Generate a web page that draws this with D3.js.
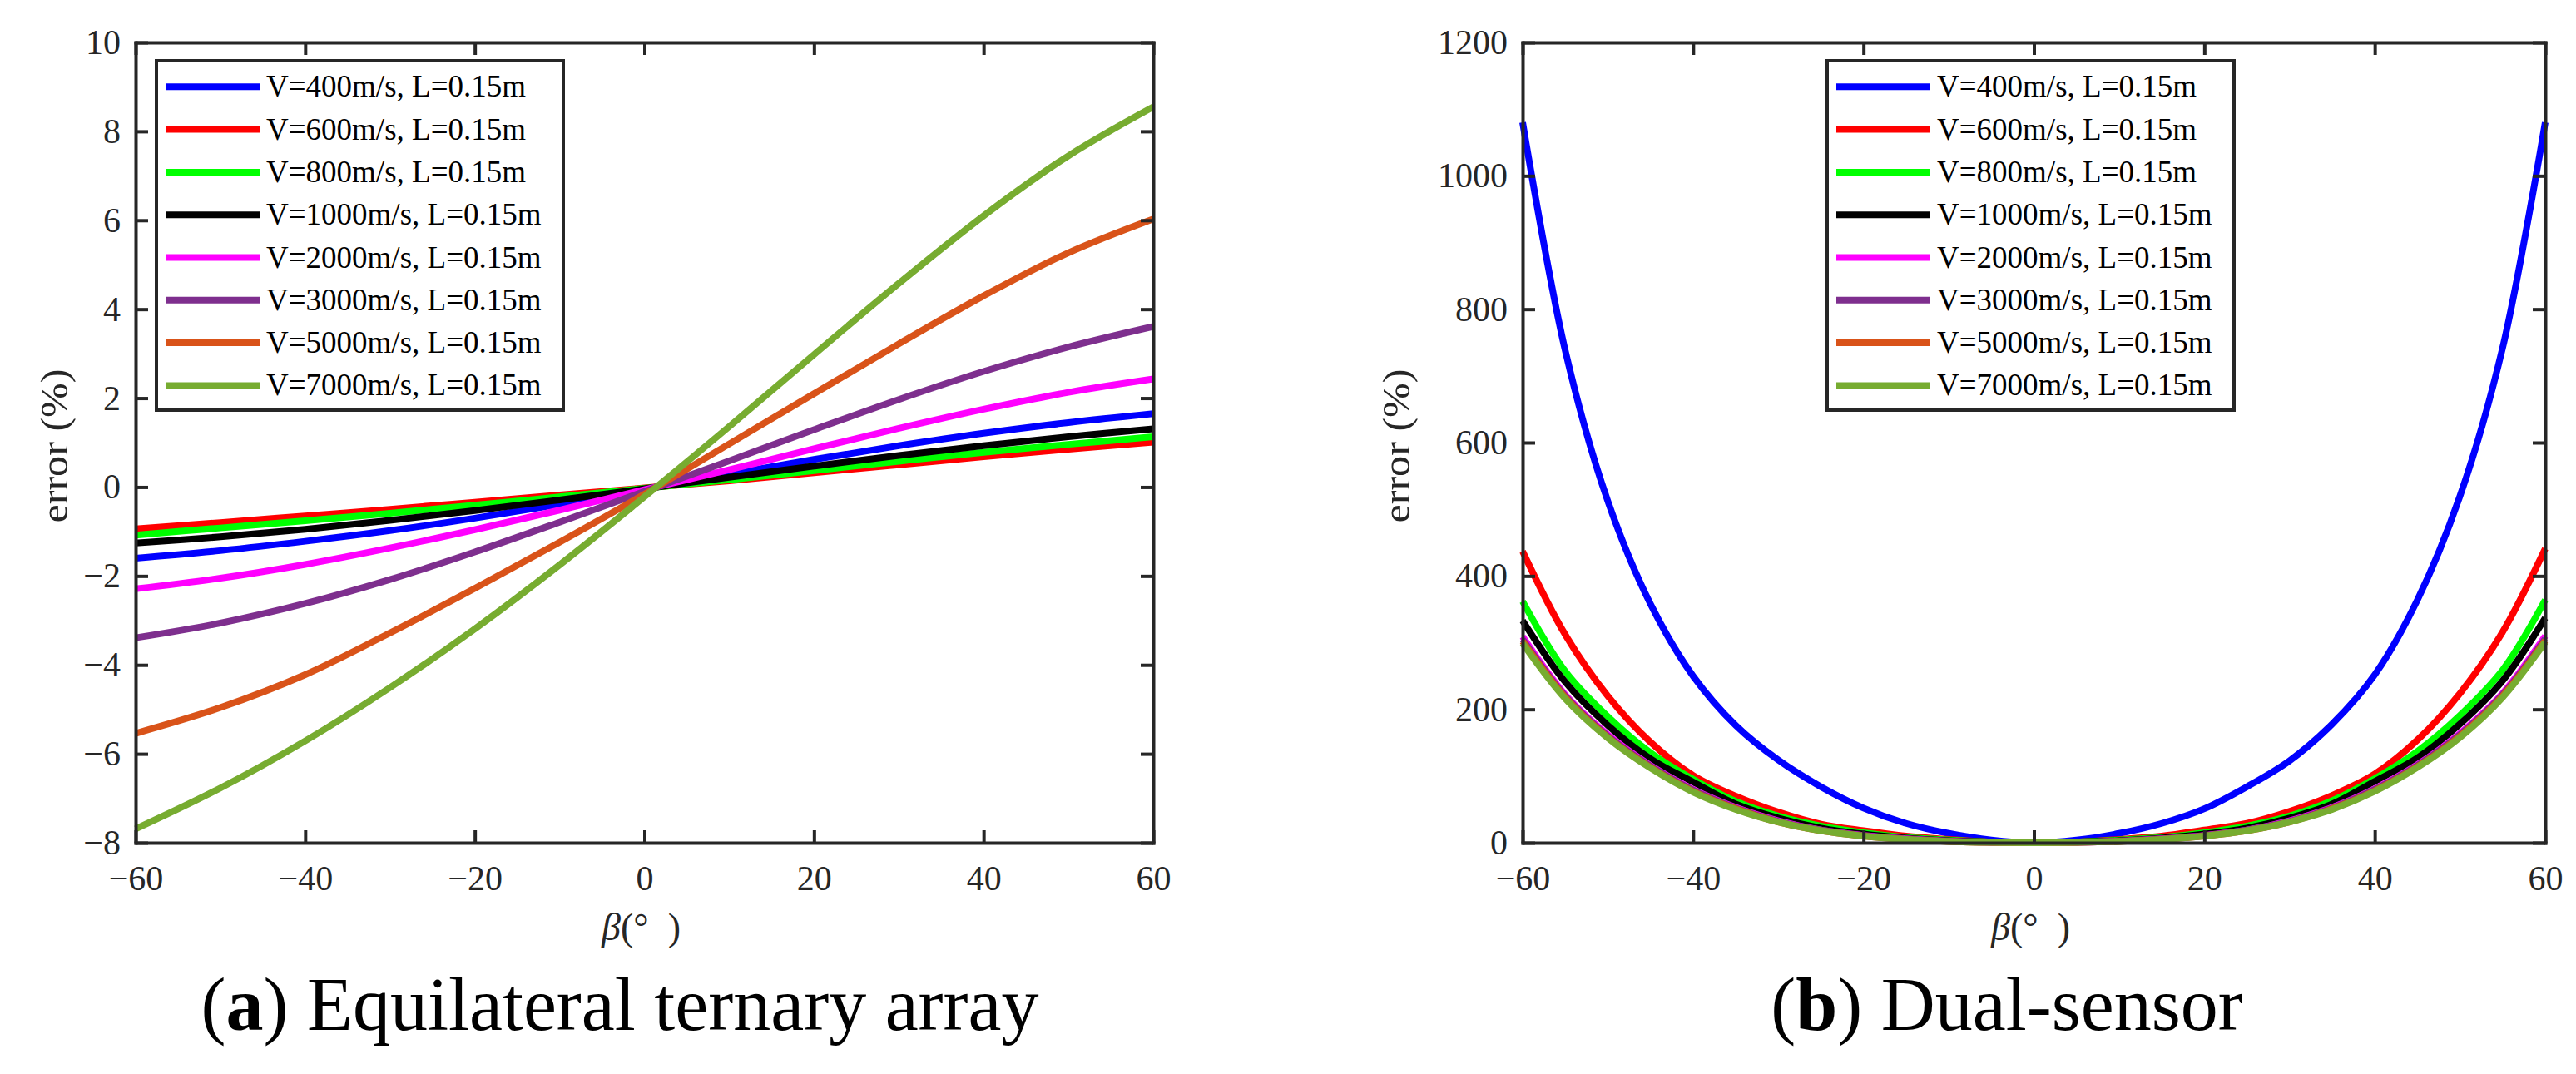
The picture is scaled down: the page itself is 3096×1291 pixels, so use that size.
<!DOCTYPE html>
<meta charset="utf-8">

<!-- Load d3.js -->
<script src="https://d3js.org/d3.v7.min.js"></script>

<style>
  body { margin: 0; background: #fff; }
  text { font-family: "Liberation Serif", "Times New Roman", serif; }
</style>

<!-- Create a div where the graph will take place -->
<div id="my_dataviz"></div>

<script>

// ---- data ----
var legendLabels = ["V=400m/s, L=0.15m", "V=600m/s, L=0.15m", "V=800m/s, L=0.15m", "V=1000m/s, L=0.15m",
                    "V=2000m/s, L=0.15m", "V=3000m/s, L=0.15m", "V=5000m/s, L=0.15m", "V=7000m/s, L=0.15m"];
var seriesColors = ["#0000ff", "#ff0000", "#00ff00", "#000000", "#ff00ff", "#7e2f8e", "#d95319", "#77ac30"];

var xTicks = [-60, -40, -20, 0, 20, 40, 60];
var yTicksA = [-8, -6, -4, -2, 0, 2, 4, 6, 8, 10];
var yTicksB = [0, 200, 400, 600, 800, 1000, 1200];

// (a) equilateral ternary array
var betaA = [-60, -50, -40, -30, -20, -10, 0, 10, 20, 30, 40, 50, 60];
var errA400  = [-1.60, -1.43, -1.22, -0.98, -0.70, -0.39, -0.05, 0.29, 0.62, 0.93, 1.21, 1.45, 1.65];
var errA600  = [-0.94, -0.80, -0.65, -0.50, -0.34, -0.18, -0.02, 0.14, 0.32, 0.50, 0.68, 0.85, 1.01];
var errA800  = [-1.08, -0.92, -0.76, -0.59, -0.41, -0.22, -0.03, 0.16, 0.37, 0.58, 0.78, 0.96, 1.13];
var errA1000 = [-1.26, -1.12, -0.95, -0.75, -0.53, -0.29, -0.04, 0.22, 0.47, 0.71, 0.93, 1.13, 1.31];
var errA2000 = [-2.29, -2.05, -1.74, -1.37, -0.96, -0.52, -0.06, 0.39, 0.86, 1.32, 1.75, 2.13, 2.43];
var errA3000 = [-3.39, -3.06, -2.62, -2.08, -1.46, -0.79, -0.10, 0.59, 1.29, 1.97, 2.60, 3.15, 3.61];
var errA5000 = [-5.54, -4.96, -4.22, -3.28, -2.28, -1.24, -0.16, 0.97, 2.10, 3.22, 4.30, 5.27, 6.03];
var errA7000 = [-7.69, -6.77, -5.71, -4.51, -3.19, -1.75, -0.22, 1.36, 2.98, 4.58, 6.10, 7.45, 8.55];

// (b) dual-sensor
var betaB = [-60, -55, -50, -45, -40, -35, -30, -25, -20, -15, -10, -5, 0,
             5, 10, 15, 20, 25, 30, 35, 40, 45, 50, 55, 60];
var errB400  = [1080, 738, 512, 358, 250, 176, 124, 84, 52, 29, 14, 4, 0,
                4, 14, 29, 51, 84, 123, 178, 252, 364, 520, 742, 1080];
var errB600  = [437, 312, 220, 151, 101, 70, 46, 28, 18, 10, 5, 1, 0,
                1, 5, 10, 19, 29, 47, 71, 103, 154, 224, 316, 441];
var errB800  = [362, 257, 189, 135, 95, 62, 40, 25, 15, 8, 4, 1, 0,
                1, 4, 8, 15, 25, 40, 63, 96, 137, 191, 259, 364];
var errB1000 = [333, 241, 176, 126, 91, 58, 37, 22, 13, 7, 3, 1, 0,
                1, 3, 7, 13, 22, 37, 58, 92, 127, 178, 243, 337];
var errB2000 = [309, 222, 162, 116, 80, 53, 33, 19, 11, 6, 2.5, 0.7, 0,
                0.7, 2.5, 6, 11, 19, 33, 53, 81, 117, 164, 224, 310];
var errB3000 = [305, 220, 160, 115, 79, 52, 32, 19, 10.5, 5.5, 2.3, 0.6, 0,
                0.6, 2.3, 5.5, 10.5, 19, 32, 52, 80, 116, 162, 222, 306];
var errB5000 = [302, 218, 158, 113, 77, 51, 31, 18, 10, 5, 2, 0.5, 0,
                0.5, 2, 5, 10, 18, 31, 51, 78, 114, 160, 220, 303];
var errB7000 = [299, 216, 157, 112, 76, 50, 31, 18, 10, 5, 2, 0.5, 0,
                0.5, 2, 5, 10, 18, 31, 50, 77, 113, 158, 218, 301];

var axisColor = "#262626";

var svg = d3.select("#my_dataviz")
  .append("svg")
    .attr("width", 3096)
    .attr("height", 1291);

function drawPanel(p) {
  var x = d3.scaleLinear().domain([-60, 60]).range([p.left, p.right]);
  var y = d3.scaleLinear().domain(p.yDomain).range([p.bottom, p.top]);
  var g = svg.append("g");

  // curves
  var line = d3.line()
    .x(function(d) { return x(d[0]); })
    .y(function(d) { return y(d[1]); })
    .curve(d3.curveCatmullRom.alpha(0.5));

  p.series.forEach(function(vals, i) {
    g.append("path")
      .datum(p.beta.map(function(b, j) { return [b, vals[j]]; }))
      .attr("d", line)
      .attr("fill", "none")
      .attr("stroke", seriesColors[i])
      .attr("stroke-width", 8);
  });

  // box axes, ticks pointing inward
  var fmt = d3.format("d");
  var axes = [
    g.append("g").attr("transform", "translate(0," + p.bottom + ")")
      .call(d3.axisBottom(x).tickValues(xTicks).tickFormat(fmt).tickSizeInner(-15).tickSizeOuter(0).tickPadding(27)),
    g.append("g").attr("transform", "translate(0," + p.top + ")")
      .call(d3.axisTop(x).tickValues(xTicks).tickFormat("").tickSizeInner(-15).tickSizeOuter(0)),
    g.append("g").attr("transform", "translate(" + p.left + ",0)")
      .call(d3.axisLeft(y).tickValues(p.yTicks).tickFormat(fmt).tickSizeInner(-15).tickSizeOuter(0).tickPadding(18)),
    g.append("g").attr("transform", "translate(" + p.right + ",0)")
      .call(d3.axisRight(y).tickValues(p.yTicks).tickFormat("").tickSizeInner(-15).tickSizeOuter(0))
  ];
  axes.forEach(function(a) {
    a.select(".domain").attr("stroke", axisColor).attr("stroke-width", 4).attr("stroke-linecap", "square");
    a.selectAll(".tick line").attr("stroke", axisColor).attr("stroke-width", 4);
    a.selectAll(".tick text")
      .attr("fill", axisColor)
      .style("font-family", "'Liberation Serif', serif")
      .style("font-size", "42px");
  });

  // legend
  var lg = g.append("g");
  lg.append("rect")
    .attr("x", p.legendX).attr("y", 73)
    .attr("width", 489).attr("height", 420)
    .attr("fill", "white").attr("stroke", axisColor).attr("stroke-width", 4);
  legendLabels.forEach(function(lab, i) {
    var cy = 104.3 + i * 51.3;
    lg.append("line")
      .attr("x1", p.legendX + 11).attr("x2", p.legendX + 124)
      .attr("y1", cy).attr("y2", cy)
      .attr("stroke", seriesColors[i]).attr("stroke-width", 8);
    lg.append("text")
      .attr("x", p.legendX + 132).attr("y", cy + 12)
      .style("font-size", "37px")
      .attr("fill", "#000")
      .text(lab);
  });

  // axis titles
  g.append("text")
    .attr("transform", "translate(" + p.yLabelX + ",536) rotate(-90)")
    .attr("text-anchor", "middle")
    .attr("dominant-baseline", "central")
    .attr("fill", axisColor)
    .attr("textLength", 185)
    .attr("lengthAdjust", "spacingAndGlyphs")
    .style("font-size", "46px")
    .text("error (%)");

  var xl = g.append("text")
    .attr("x", (p.left + p.right) / 2 - 4).attr("y", 1130)
    .attr("text-anchor", "middle")
    .attr("fill", axisColor)
    .style("font-size", "46px");
  xl.append("tspan").style("font-style", "italic").text("β");
  xl.append("tspan").text("(°\u00a0\u00a0)");

  // caption
  var cap = svg.append("text")
    .attr("x", p.captionX).attr("y", 1238)
    .attr("text-anchor", "middle")
    .attr("fill", "#000")
    .style("font-size", "90px");
  cap.append("tspan").text("(");
  cap.append("tspan").style("font-weight", "bold").text(p.letter);
  cap.append("tspan").text(") " + p.caption);
}

drawPanel({
  left: 163, right: 1386, top: 51, bottom: 1013,
  yDomain: [-8, 10], yTicks: yTicksA,
  beta: betaA,
  series: [errA400, errA600, errA800, errA1000, errA2000, errA3000, errA5000, errA7000],
  legendX: 188, yLabelX: 65,
  captionX: 745, letter: "a", caption: "Equilateral ternary array"
});

drawPanel({
  left: 1830, right: 3059, top: 51, bottom: 1013,
  yDomain: [0, 1200], yTicks: yTicksB,
  beta: betaB,
  series: [errB400, errB600, errB800, errB1000, errB2000, errB3000, errB5000, errB7000],
  legendX: 2196, yLabelX: 1678,
  captionX: 2412, letter: "b", caption: "Dual-sensor"
});

</script>
